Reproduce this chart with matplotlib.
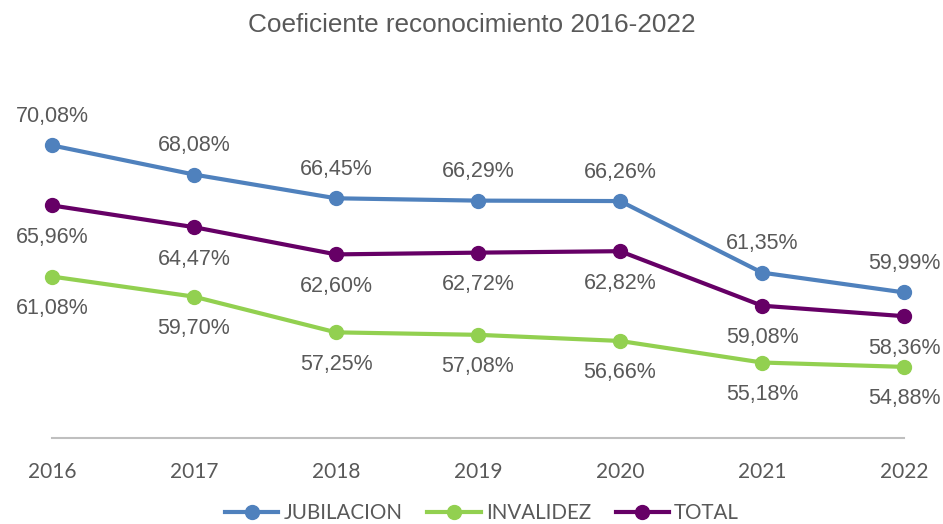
import matplotlib
matplotlib.use("Agg")
import matplotlib.pyplot as plt

years = ["2016", "2017", "2018", "2019", "2020", "2021", "2022"]
jubilacion = [70.08, 68.08, 66.45, 66.29, 66.26, 61.35, 59.99]
invalidez = [61.08, 59.70, 57.25, 57.08, 56.66, 55.18, 54.88]
total = [65.96, 64.47, 62.60, 62.72, 62.82, 59.08, 58.36]

series = [
    ("JUBILACION", jubilacion, "#4F81BD", 1),
    ("INVALIDEZ", invalidez, "#92D050", -1),
    ("TOTAL", total, "#660066", -1),
]

W, H = 943, 524
fig = plt.figure(figsize=(W / 100, H / 100), dpi=100)
ax = fig.add_axes([52 / W, (H - 438) / H, 852 / W, (438 - 73.7) / H])
ax.set_xlim(0, 6)
ax.set_ylim(50, 75)

x = list(range(len(years)))
text_color = "#595959"
for name, vals, color, side in series:
    ax.plot(x, vals, color=color, lw=3, marker="o", markersize=10,
            label=name, clip_on=False, zorder=3)
    for xi, v in zip(x, vals):
        ax.annotate(f"{v:.2f}%".replace(".", ","), (xi, v),
                    xytext=(0, (29 if side > 0 else 32) * side), textcoords="offset pixels",
                    ha="center", va="center", fontsize=15.5, color=text_color,
                    family="Liberation Sans")

for s in ["top", "right", "left"]:
    ax.spines[s].set_visible(False)
ax.spines["bottom"].set_color("#BFBFBF")
ax.spines["bottom"].set_linewidth(1.5)
ax.set_yticks([])
ax.set_xticks(x)
ax.set_xticklabels(years, fontsize=15, color=text_color, family="Lato")
ax.tick_params(axis="x", length=0, pad=17)

fig.text(0.5, 1 - 25 / H, "Coeficiente reconocimiento 2016-2022", ha="center",
         va="center", fontsize=18.8, color=text_color, family="Liberation Sans")

leg = fig.legend(loc="center", bbox_to_anchor=(482 / W, 1 - 513 / H), ncol=3,
                 frameon=False, handlelength=2.6, columnspacing=1.2,
                 handletextpad=0.25, prop={"family": "Lato", "size": 14.8})
for t in leg.get_texts():
    t.set_color(text_color)

fig.savefig("out.png", dpi=100)
